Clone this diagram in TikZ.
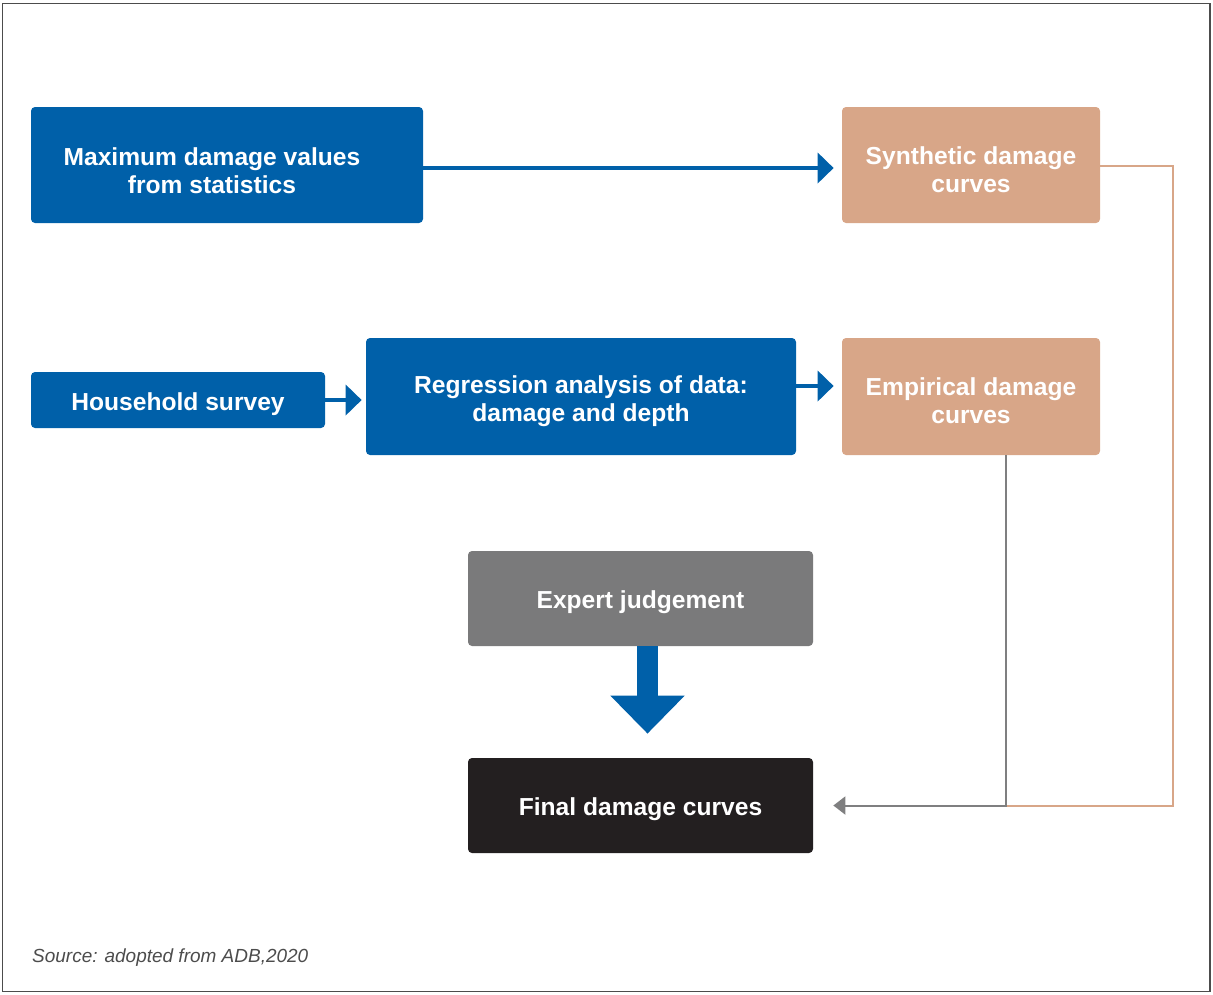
\documentclass[tikz,border=0pt]{standalone}
\usepackage{fontspec}
\setmainfont{Liberation Sans}
\usetikzlibrary{arrows.meta}

\definecolor{adbblue}{HTML}{0060A9}
\definecolor{adbtan}{HTML}{D8A688}
\definecolor{adbgray}{HTML}{7A7A7B}
\definecolor{adbblack}{HTML}{231F20}
\definecolor{linegray}{HTML}{7F7F80}

\tikzset{
  box/.style={rounded corners=0.08cm, text=white, align=center,
    font=\fontsize{14}{16}\selectfont\bfseries, inner sep=0pt, text height=14.5pt},
  twoline/.style={text height=31pt},
  bluearrow/.style={adbblue, line width=0.08cm,
    -{Triangle[length=0.32cm,width=0.6cm]}},
}

\begin{document}
\begin{tikzpicture}
    \useasboundingbox (0,0) rectangle (24.26,-19.88);
    \draw[black!70, line width=0.03cm] (0.05,-0.07) rectangle (24.2,-19.83);

    % boxes
    \node[box, fill=adbblue, minimum width=7.84cm, minimum height=2.32cm] (maxdmg) at (4.54,-3.30) {};
    \node[box, twoline] (maxdmgtext) at (4.24,-3.33) {Maximum damage values\\from statistics};
    \node[box, twoline, fill=adbtan, minimum width=5.16cm, minimum height=2.32cm] (synth) at (19.42,-3.30) {Synthetic damage\\curves};
    \node[box, fill=adbblue, minimum width=5.88cm, minimum height=1.12cm] (survey) at (3.56,-8.00) {Household survey};
    \node[box, twoline, fill=adbblue, minimum width=8.6cm, minimum height=2.34cm] (regr) at (11.62,-7.93) {Regression analysis of data:\\damage and depth};
    \node[box, twoline, fill=adbtan, minimum width=5.16cm, minimum height=2.34cm] (empir) at (19.42,-7.93) {Empirical damage\\curves};
    \node[box, fill=adbgray, minimum width=6.9cm, minimum height=1.9cm] (expert) at (12.81,-11.97) {Expert judgement};
    \node[box, fill=adbblack, minimum width=6.9cm, minimum height=1.9cm] (final) at (12.81,-16.11) {Final damage curves};

    % arrows
    \draw[bluearrow, shorten >=0.16cm] ([yshift=-0.06cm]maxdmg.east) -- ([yshift=-0.06cm]synth.west);
    \draw[bluearrow, shorten >=0.08cm] (survey.east) -- (survey.east -| regr.west);
    \draw[bluearrow, shorten >=0.16cm] ([yshift=0.21cm]regr.east) -- ([yshift=0.21cm]empir.west);
    \draw[adbblue, line width=0.42cm, shorten >=0.48cm,
      -{Triangle[length=0.76cm,width=1.44cm]}] ([xshift=0.14cm]expert.south) -- ([xshift=0.14cm]final.north);

    \coordinate (merge) at ([xshift=0.7cm]empir.south |- final.east);
    \draw[adbtan, line width=0.04cm] ([yshift=-0.02cm]synth.east) -- ++(1.46,0) |- (merge);
    \draw[linegray, line width=0.04cm, shorten >=0.4cm,
      -{Triangle[length=0.24cm,width=0.36cm]}] ([xshift=0.7cm]empir.south) -- (merge) -- (final.east);

    \node[anchor=west, text=black!70, font=\fontsize{10.8}{13}\selectfont\itshape] (source) at (0.52,-19.16) {Source: adopted from ADB,2020};
\end{tikzpicture}
\end{document}
